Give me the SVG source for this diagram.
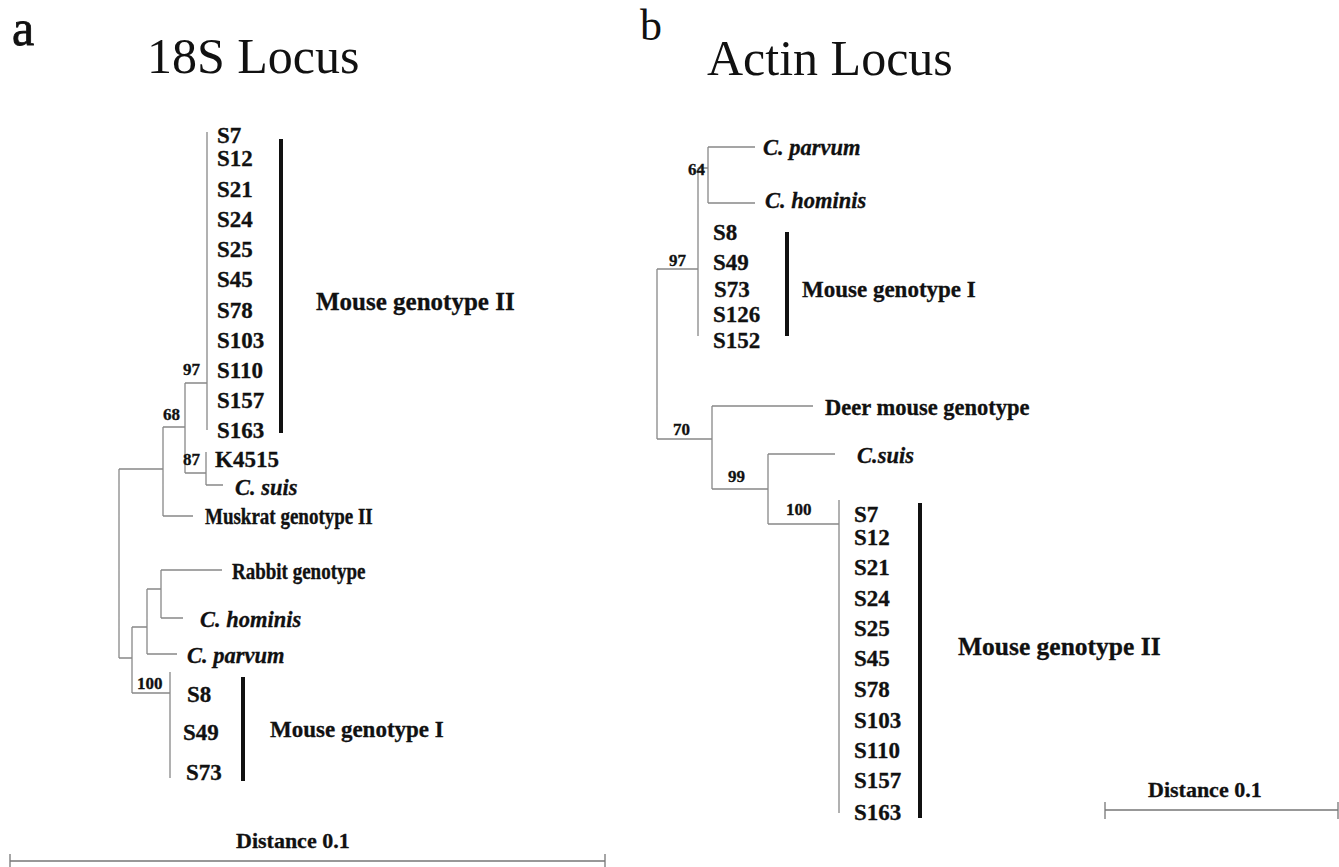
<svg xmlns="http://www.w3.org/2000/svg" width="1339" height="867" viewBox="0 0 1339 867">
  <style>
    .br { fill: none; stroke: #888; stroke-width: 1.3; }
    .bar { fill: none; stroke: #111; stroke-width: 4; }
    .sc { fill: none; stroke: #777; stroke-width: 1.3; }
    text { font-family: "Liberation Serif", "Times New Roman", serif; fill: #111; }
    .lf, .sp, .bs, .gl { stroke: #111; stroke-width: 0.3; }
    .lf { font-size: 23px; font-weight: bold; }
    .sp { font-size: 22.5px; font-weight: bold; font-style: italic; }
    .bs { font-size: 17px; font-weight: bold; }
    .gl { font-weight: bold; }
    .hd { font-size: 50px; }
  </style>
  <rect width="1339" height="867" fill="#fff"/>

  <!-- panel headings -->
  <g id="headings">
    <text x="12" y="45" style="font-size:50px;stroke:#111;stroke-width:0.8">a</text>
    <text x="147" y="73" class="hd">18S Locus</text>
    <text x="640" y="40" style="font-size:44px">b</text>
    <text x="707" y="75" class="hd">Actin Locus</text>
  </g>

  <!-- ===== 18S tree ===== -->
  <g id="tree-18s-connectors">
    <path class="br" d="M207,132 V430 M185,383 H207 M185,383 V473 M185,473 H206 M206,452 V485 M206,485 H223
                        M163,427 H185 M163,427 V516 M163,516 H193 M119,469 H163 M119,469 V658 M119,658 H132
                        M132,627 V693 M132,627 H147 M147,589 V654 M147,654 H177 M147,589 H161 M161,570 V618
                        M161,570 H222 M161,618 H183 M132,693 H170 M170,672 V778"/>
    <path class="bar" d="M281,139 V433 M243,677 V781"/>
  </g>
  <g id="n18-mouse2-leaves" class="lf">
    <text x="217" y="143">S7</text>
    <text x="217" y="166">S12</text>
    <text x="217" y="197">S21</text>
    <text x="217" y="227">S24</text>
    <text x="217" y="257">S25</text>
    <text x="217" y="287">S45</text>
    <text x="217" y="318">S78</text>
    <text x="217" y="348">S103</text>
    <text x="217" y="378">S110</text>
    <text x="217" y="408">S157</text>
    <text x="217" y="438">S163</text>
  </g>
  <g id="n18-mouse2-label"><text x="316" y="310" class="gl" style="font-size:25px">Mouse genotype II</text></g>
  <g id="n18-k4515"><text x="215" y="467" class="lf">K4515</text></g>
  <g id="n18-csuis"><text x="235" y="495" class="sp">C. suis</text></g>
  <g id="n18-muskrat"><text transform="translate(205,524) scale(1,1.2)" class="lf" style="font-size:19px">Muskrat genotype II</text></g>
  <g id="n18-rabbit"><text transform="translate(232,579) scale(1,1.2)" class="lf" style="font-size:19px">Rabbit genotype</text></g>
  <g id="n18-chominis"><text x="200" y="627" class="sp">C. hominis</text></g>
  <g id="n18-cparvum"><text x="187" y="663" class="sp">C. parvum</text></g>
  <g id="n18-mouse1-leaves" class="lf">
    <text x="187" y="702">S8</text>
    <text x="183" y="740">S49</text>
    <text x="186" y="780">S73</text>
  </g>
  <g id="n18-mouse1-label"><text x="270" y="737" class="gl" style="font-size:23px">Mouse genotype I</text></g>
  <g id="n18-support" class="bs">
    <text x="183" y="375">97</text>
    <text x="163" y="420">68</text>
    <text x="183" y="465">87</text>
    <text x="137" y="689">100</text>
  </g>
  <g id="n18-scale">
    <path class="sc" d="M10,861 H605 M10,854 V868 M605,854 V868"/>
    <text x="236" y="848" class="lf" style="font-size:22px">Distance 0.1</text>
  </g>

  <!-- ===== Actin tree ===== -->
  <g id="tree-actin-connectors">
    <path class="br" d="M708,147 H755 M708,147 V203 M708,203 H755 M698,168 H708 M698,168 V336
                        M657,269 H698 M657,269 V439 M657,439 H712 M712,406 V489 M712,406 H813
                        M712,489 H768 M768,454 V524 M768,454 H835 M768,524 H839 M839,500 V813"/>
    <path class="bar" d="M787,232 V336 M920,503 V818"/>
  </g>
  <g id="na-cparvum"><text x="763" y="155" class="sp">C. parvum</text></g>
  <g id="na-chominis"><text x="765" y="208" class="sp">C. hominis</text></g>
  <g id="na-mouse1-leaves" class="lf">
    <text x="713" y="240">S8</text>
    <text x="713" y="270">S49</text>
    <text x="714" y="297">S73</text>
    <text x="713" y="322">S126</text>
    <text x="713" y="348">S152</text>
  </g>
  <g id="na-mouse1-label"><text x="802" y="297" class="gl" style="font-size:23px">Mouse genotype I</text></g>
  <g id="na-deer"><text x="825" y="415" class="lf" style="font-size:22.5px">Deer mouse genotype</text></g>
  <g id="na-csuis"><text x="857" y="463" class="sp">C.suis</text></g>
  <g id="na-mouse2-leaves" class="lf">
    <text x="854" y="522">S7</text>
    <text x="854" y="545">S12</text>
    <text x="854" y="575">S21</text>
    <text x="854" y="606">S24</text>
    <text x="854" y="636">S25</text>
    <text x="854" y="666">S45</text>
    <text x="854" y="697">S78</text>
    <text x="854" y="728">S103</text>
    <text x="854" y="758">S110</text>
    <text x="854" y="788">S157</text>
    <text x="854" y="820">S163</text>
  </g>
  <g id="na-mouse2-label"><text x="958" y="655" class="gl" style="font-size:25.5px">Mouse genotype II</text></g>
  <g id="na-support" class="bs">
    <text x="688" y="175">64</text>
    <text x="669" y="266">97</text>
    <text x="673" y="435">70</text>
    <text x="728" y="482">99</text>
    <text x="786" y="515">100</text>
  </g>
  <g id="na-scale">
    <path class="sc" d="M1105,810 H1338 M1105,802 V819 M1338,802 V819"/>
    <text x="1148" y="797" class="lf" style="font-size:22px">Distance 0.1</text>
  </g>
</svg>
